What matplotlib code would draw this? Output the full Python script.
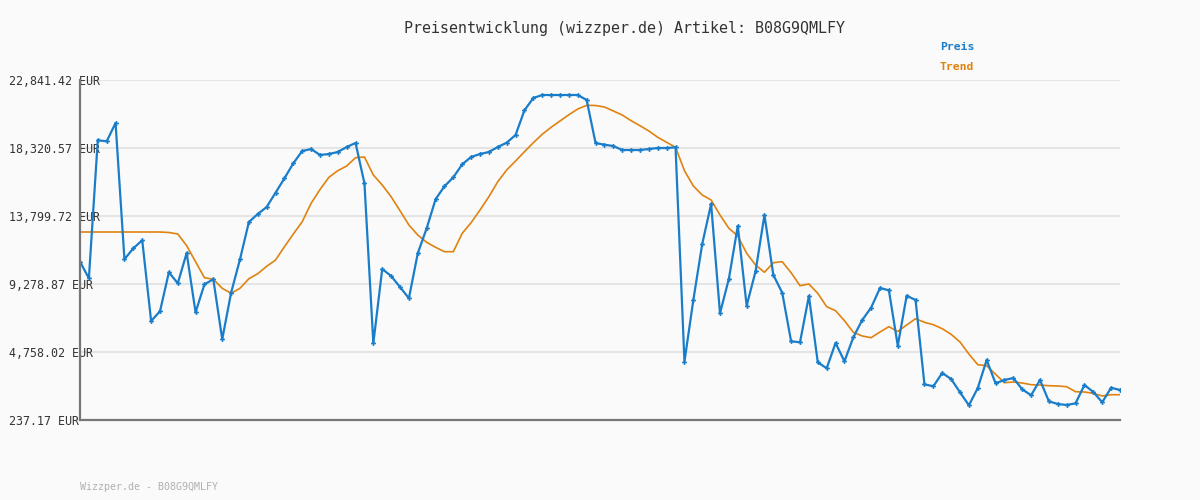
import numpy as np
import matplotlib.pyplot as plt

preis = [10761, 9658, 18832, 18766, 19982, 10921, 11652, 12184, 6819, 7464,
         10057, 9325, 11340, 7397, 9259, 9591, 5602, 8700, 10921, 13401,
         13933, 14398, 15349, 16306, 17303, 18121, 18254, 17855, 17921, 18054,
         18387, 18653, 15973, 5336, 10276, 9811, 9079, 8328, 11320, 12982,
         14910, 15774, 16372, 17237, 17722, 17921, 18054, 18387, 18673, 19185,
         20827, 21645, 21844, 21844, 21844, 21844, 21844, 21512, 18653, 18540,
         18453, 18187, 18187, 18187, 18254, 18320, 18320, 18367, 4113, 8215,
         11938, 14597, 7331, 9631, 13135, 7836, 10123, 13866, 9877, 8700,
         5469, 5403, 8481, 4073, 3674, 5356, 4140, 5735, 6885, 7703,
         9013, 8860, 5177, 8501, 8215, 2610, 2477, 3362, 2963, 2079,
         1214, 2364, 4226, 2677, 2896, 3029, 2278, 1879, 2896, 1480,
         1301, 1234, 1347, 2564, 2099, 1414, 2384, 2231]

trend = [12736, 12736, 12736, 12736, 12736, 12736, 12736, 12736, 12736, 12736,
         12703, 12603, 11825, 10761, 9698, 9591, 8993, 8660, 8993, 9631,
         9963, 10455, 10874, 11759, 12603, 13421, 14644, 15561, 16372, 16812,
         17124, 17675, 17722, 16525, 15861, 15083, 14152, 13201, 12536, 12051,
         11719, 11426, 11426, 12649, 13354, 14198, 15083, 16080, 16858, 17456,
         18074, 18673, 19231, 19697, 20115, 20534, 20913, 21159, 21146, 21046,
         20780, 20514, 20135, 19803, 19451, 19032, 18699, 18367, 16812, 15794,
         15196, 14863, 13866, 12982, 12470, 11320, 10542, 10057, 10695, 10761,
         10030, 9166, 9279, 8660, 7770, 7504, 6839, 6068, 5822, 5709,
         6088, 6440, 6121, 6553, 6972, 6732, 6573, 6307, 5935, 5423,
         4625, 3913, 3847, 3275, 2717, 2763, 2697, 2584, 2564, 2517,
         2497, 2451, 2118, 2099, 2012, 1833, 1919, 1919]

yticks = [237.17, 4758.02, 9278.87, 13799.72, 18320.57, 22841.42]
ylabels = ['237.17 EUR', '4,758.02 EUR', '9,278.87 EUR', '13,799.72 EUR',
           '18,320.57 EUR', '22,841.42 EUR']

blue = '#1a7dc9'
orange = '#e0820f'
bg = '#fafafa'
mono = 'DejaVu Sans Mono'

fig = plt.figure(figsize=(12, 5), dpi=100, facecolor=bg)
ax = fig.add_axes([80/1200, 80/500, 1040/1200, 340/500], facecolor=bg)

x = np.arange(len(preis))
ax.plot(x, trend, color=orange, lw=1.2, zorder=3)
ax.plot(x, preis, color=blue, lw=1.6, marker='P', markersize=3.5,
        markeredgewidth=0, zorder=4)

ax.set_xlim(0, len(preis) - 1)
ax.set_ylim(yticks[0], yticks[-1])
ax.set_yticks(yticks)
ax.set_yticklabels(ylabels, fontfamily=mono, fontsize=8.4, color='#333333',
                   ha='left')
ax.tick_params(axis='y', length=0, pad=51)
ax.set_xticks([])
ax.grid(axis='y', color='#e4e4e4', lw=1.5, zorder=0)
ax.set_axisbelow(True)

for s in ['top', 'right']:
    ax.spines[s].set_visible(False)
for s in ['left', 'bottom']:
    ax.spines[s].set_color('#777777')
    ax.spines[s].set_linewidth(1.6)
    ax.spines[s].set_zorder(5)

fig.text(624/1200, 1 - 28/500, 'Preisentwicklung (wizzper.de) Artikel: B08G9QMLFY',
         ha='center', va='center', fontfamily=mono, fontsize=10.8, color='#333333')
fig.text(940/1200, 1 - 47/500, 'Preis', ha='left', va='center', fontfamily=mono,
         fontsize=8.2, fontweight='bold', color=blue)
fig.text(940/1200, 1 - 67/500, 'Trend', ha='left', va='center', fontfamily=mono,
         fontsize=8.2, fontweight='bold', color=orange)
fig.text(80/1200, 1 - 487/500, 'Wizzper.de - B08G9QMLFY', ha='left', va='center',
         fontfamily=mono, fontsize=7.2, color='#b0b0b0')

fig.savefig('out.png', dpi=100, facecolor=bg)
